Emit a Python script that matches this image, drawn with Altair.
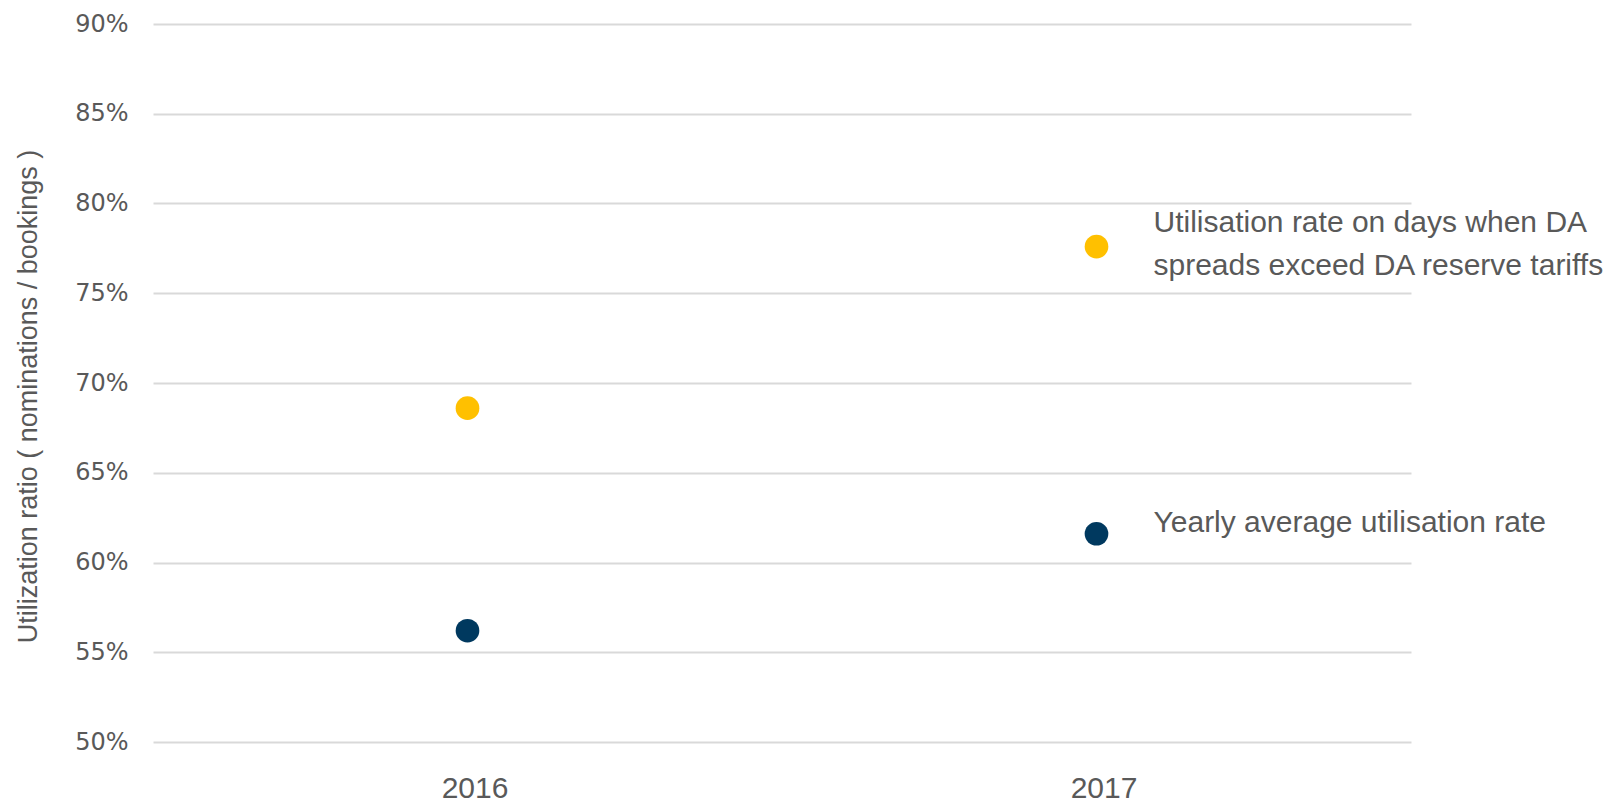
import altair as alt
import pandas as pd

years = ["2016", "2017"]
series = ["Yearly average utilisation rate",
          "Utilisation rate on days when DA spreads exceed DA reserve tariffs"]
yearly_avg = [0.562, 0.616]
spread_days = [0.686, 0.776]
colors = ["#00395F", "#FFC000"]
y_ticks = [0.50, 0.55, 0.60, 0.65, 0.70, 0.75, 0.80, 0.85, 0.90]
label_avg = "Yearly average utilisation rate"
label_spread = ["Utilisation rate on days when DA", "spreads exceed DA reserve tariffs"]

rows = []
for i, yr in enumerate(years):
    rows.append({"year": yr, "series": series[0], "value": yearly_avg[i]})
    rows.append({"year": yr, "series": series[1], "value": spread_days[i]})
df = pd.DataFrame(rows)

sans = "Liberation Sans, Arial, sans-serif"
grey = "#595959"

x_enc = alt.X("year:N", scale=alt.Scale(type="point", padding=0.5),
              axis=alt.Axis(title=None, labelAngle=0, domain=False, ticks=False, tickSize=0,
                            grid=False, labelFont=sans, labelFontSize=30, labelColor=grey,
                            labelBaseline="alphabetic", labelPadding=55, labelOffset=7))
y_enc = alt.Y("value:Q", scale=alt.Scale(domain=[0.5, 0.9], nice=False, zero=False),
              axis=alt.Axis(title="Utilization ratio ( nominations / bookings )",
                            format=".0%", values=y_ticks, domain=False, ticks=False, tickSize=0,
                            grid=True, gridColor="#D9D9D9", gridWidth=2,
                            labelFont="DejaVu Sans", labelFontSize=24, labelColor=grey,
                            labelPadding=25, labelBaseline="middle",
                            titleFont=sans, titleFontSize=27, titleFontWeight="normal",
                            titleColor=grey, titleX=-125, titleY=372, titleAngle=270,
                            titleAlign="center", titleBaseline="middle"))

points = alt.Chart(df).mark_circle(size=560, opacity=1).encode(
    x=x_enc, y=y_enc,
    color=alt.Color("series:N", scale=alt.Scale(domain=series, range=colors), legend=None),
)

lab_df = pd.DataFrame([
    {"year": years[1], "value": yearly_avg[1], "text": label_avg},
    {"year": years[1], "value": spread_days[1], "text": label_spread},
])

lab_avg = alt.Chart(lab_df.iloc[[0]]).mark_text(
    align="left", baseline="alphabetic", dx=57, dy=-2, font=sans, fontSize=30, color=grey
).encode(x="year:N", y="value:Q", text="text")

lab_spread = alt.Chart(lab_df.iloc[[1]]).mark_text(
    align="left", baseline="alphabetic", dx=57, dy=-15, font=sans, fontSize=30,
    lineHeight=43, color=grey
).encode(x="year:N", y="value:Q", text="text")

chart = alt.layer(points, lab_avg, lab_spread).properties(
    width=1258, height=718,
    background="white",
    autosize=alt.AutoSizeParams(type="none"),
    padding={"left": 145, "top": 16, "right": 197, "bottom": 61},
).configure_view(stroke=None)

chart.save("out.html", embed_options={"renderer": "svg", "actions": False})
